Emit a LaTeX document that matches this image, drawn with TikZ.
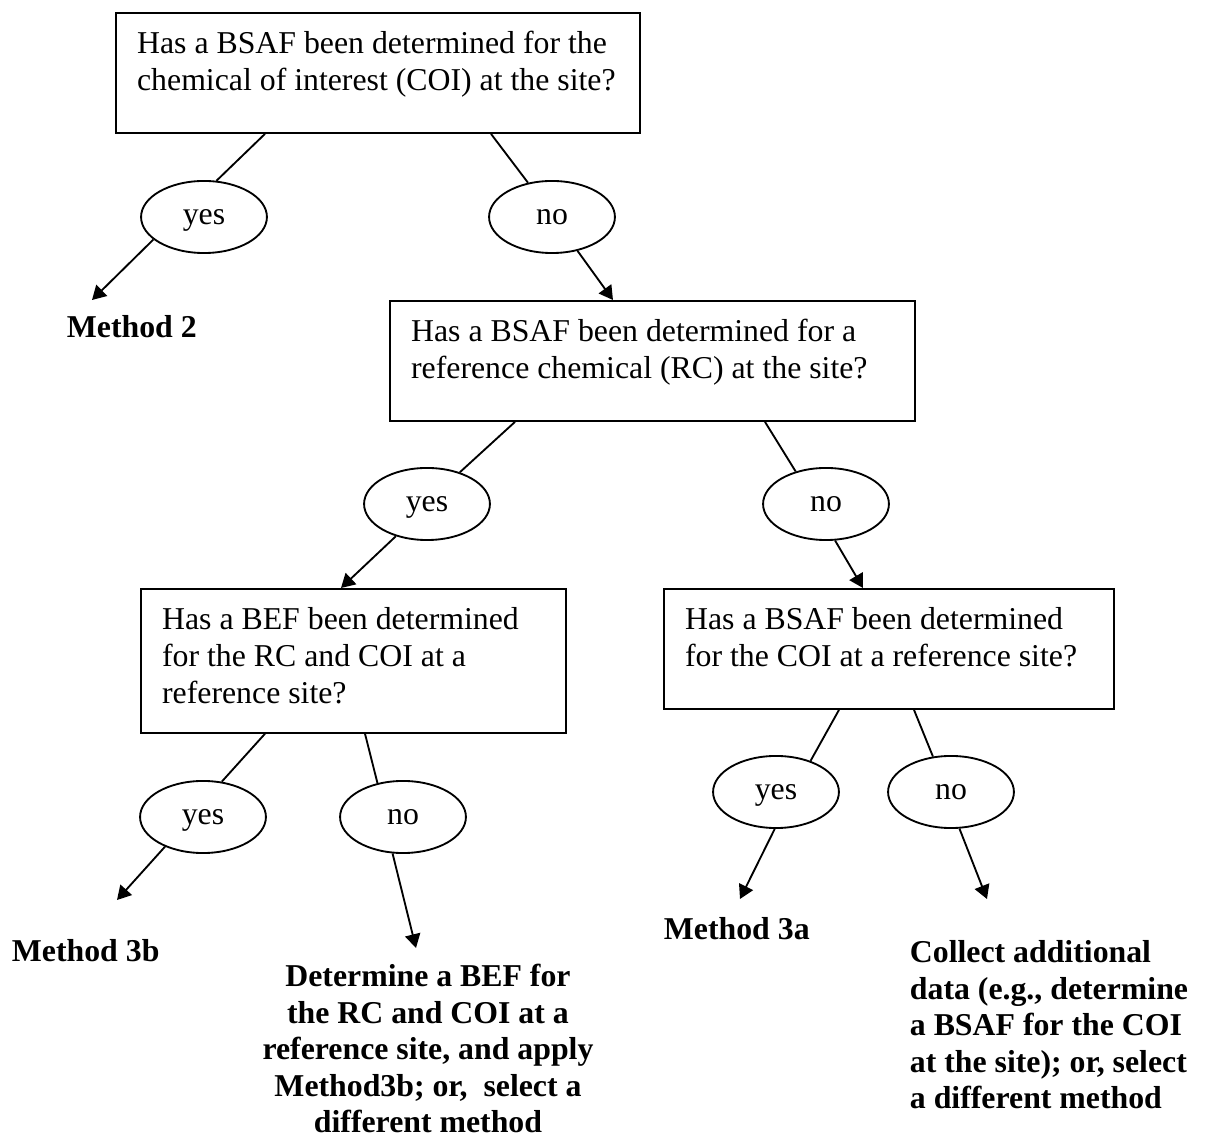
\documentclass[tikz,border=0pt]{standalone}
\usepackage{fontspec}
\setmainfont{Liberation Serif}
\usetikzlibrary{shapes.geometric,arrows.meta,calc}

\begin{document}
\begin{tikzpicture}[x=0.3774pt, y=-0.3774pt, line width=0.7pt,
    font=\fontsize{12}{13.8}\selectfont,
    qbox/.style={draw, rectangle, anchor=north west, inner xsep=8pt, inner ysep=5.8pt},
    answer/.style={draw, ellipse, minimum width=47.5pt, minimum height=27.2pt, inner sep=0pt, text height=8pt, text depth=2.5pt},
    result/.style={font=\fontsize{12}{13.8}\selectfont\bfseries, inner sep=0pt},
    tip/.style={-{Triangle[length=5.2pt,width=5.8pt]}}]
    \useasboundingbox (0,0) rectangle (1209,1140);
    % questions
    \node [qbox] (q1) at (115,12) {\parbox[t][33.7pt][t]{181.7pt}{\strut Has a BSAF been determined for the\\chemical of interest (COI) at the site?}};
    \node [qbox] (q2) at (389,300) {\parbox[t][33.7pt][t]{182.1pt}{\strut Has a BSAF been determined for a\\reference chemical (RC) at the site?}};
    \node [qbox] (q3) at (140,588) {\parbox[t][42.7pt][t]{144.4pt}{\strut Has a BEF been determined\\for the RC and COI at a\\reference site?}};
    \node [qbox] (q4) at (663,588) {\parbox[t][33.7pt][t]{153.8pt}{\strut Has a BSAF been determined\\for the COI at a reference site?}};
    % answers
    \node [answer] (y1) at (204,217) {yes};
    \node [answer] (n1) at (552,217) {no};
    \node [answer] (y2) at (427,504) {yes};
    \node [answer] (n2) at (826,504) {no};
    \node [answer] (y3) at (203,817) {yes};
    \node [answer] (n3) at (403,817) {no};
    \node [answer] (y4) at (776,792) {yes};
    \node [answer] (n4) at (951,792) {no};
    % outcomes (multi-line ones sit on their last line)
    \node [result, anchor=base west] (m2) at (66,338) {Method 2};
    \node [result, anchor=base west] (m3b) at (11,962) {Method 3b};
    \node [result, anchor=base west] (m3a) at (663,940) {Method 3a};
    \node [result, anchor=base, align=center] (newbef) at (428,1133) {Determine a BEF for\\the RC and COI at a\\reference site, and apply\\Method3b; or,~ select a\\different method};
    \node [result, anchor=base west, align=left] (collect) at (909,1109) {Collect additional\\data (e.g., determine\\a BSAF for the COI\\at the site); or, select\\a different method};
    \coordinate (m2tip) at (92,300);
    \coordinate (m3btip) at (117,900);
    \coordinate (newbeftip) at (416,948);
    \coordinate (m3atip) at (740,899);
    \coordinate (collecttip) at (987,899);
    % connectors
    \draw ($(q1.south west)+(150,0)$) -- (y1.71);
    \draw ($(q1.south west)+(376,0)$) -- (n1.125);
    \draw [tip] (y1.204) -- (m2tip);
    \draw [tip] (n1.307) -- ($(q2.north west)+(224,0)$);
    \draw ($(q2.south west)+(126,0)$) -- (y2.44);
    \draw ($(q2.south west)+(376,0)$) -- (n2.133);
    \draw [tip] (y2.226) -- ($(q3.north west)+(201,0)$);
    \draw [tip] (n2.284) -- ($(q4.north west)+(200,0)$);
    \draw ($(q3.south west)+(125,0)$) -- (y3.62);
    \draw ($(q3.south west)+(225,0)$) -- (n3.127);
    \draw [tip] (y3.218) -- (m3btip);
    \draw [tip] (n3.254) -- (newbeftip);
    \draw ($(q4.south west)+(176,0)$) -- (y4.42);
    \draw ($(q4.south west)+(251,0)$) -- (n4.117);
    \draw [tip] (y4.268) -- (m3atip);
    \draw [tip] (n4.283) -- (collecttip);
\end{tikzpicture}
\end{document}
